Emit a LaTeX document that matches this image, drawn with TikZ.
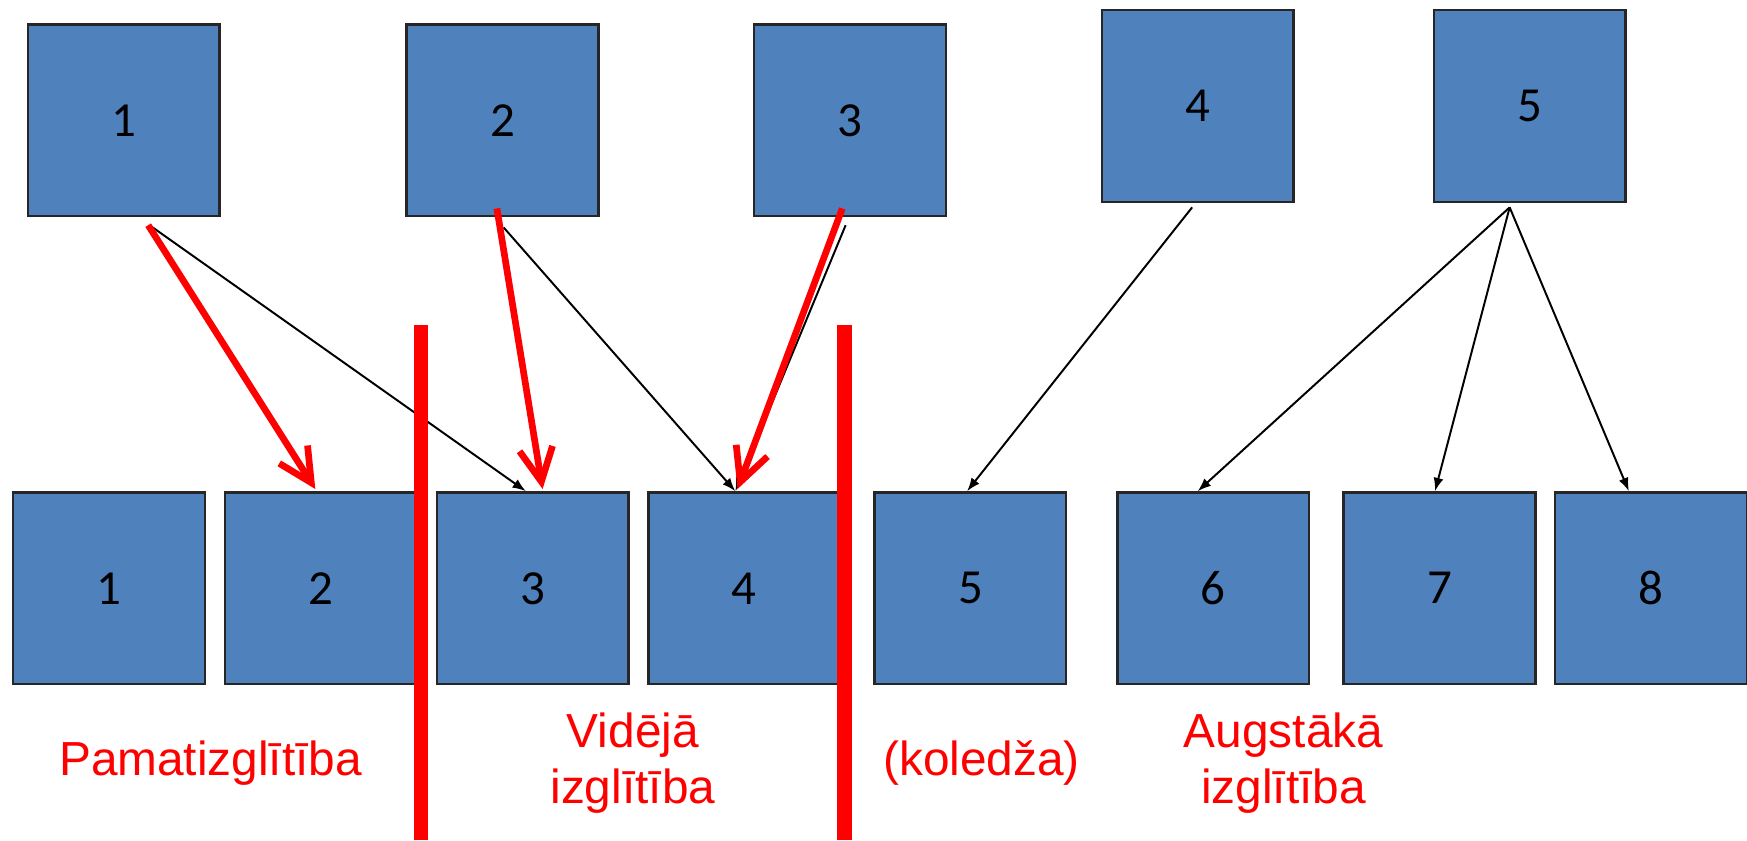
\documentclass[tikz,border=0pt]{standalone}
\usepackage{fontspec}
\setmainfont{Carlito}
\newfontfamily\labelfont{Liberation Sans}
\usetikzlibrary{arrows.meta}
\definecolor{boxblue}{RGB}{79,129,189}

\begin{document}
\begin{tikzpicture}[x=0.01cm, y=-0.01cm,
	blok/.style={rectangle, draw=black!85, line width=0.6pt, fill=boxblue, minimum width=1.72cm, minimum height=1.72cm, inner sep=0pt, font=\fontsize{12.5}{14}\selectfont},
	blackarrow/.style={-{Latex[length=0.12cm,width=0.09cm]}, line width=0.5pt},
	redarrow/.style={-{Straight Barb[length=0.3cm,width=0.3cm]}, red, line width=0.06cm},
	grouptext/.style={red, align=center, font=\labelfont\fontsize{12.2}{14.5}\selectfont}]
\useasboundingbox (0,0) rectangle (1568,754);

%top row:
\foreach \n/\x/\y in {1/111/108, 2/451/108, 3/763/108, 4/1075/95, 5/1373/95} {
	\node[blok] (t\n) at (\x,\y) {\n};
}
%bottom row:
\foreach \n/\x in {1/98, 2/288, 3/478, 4/668, 5/871, 6/1089, 7/1292, 8/1482} {
	\node[blok] (b\n) at (\x,528) {\n};
}

%black arrows:
\draw[blackarrow] ([xshift=0.26cm,yshift=-0.09cm]t1.south) -- ([xshift=-0.06cm]b3.north);
\draw[blackarrow] ([xshift=0.01cm,yshift=-0.09cm]t2.south) -- ([xshift=-0.08cm]b4.north);
\draw[blackarrow] ([xshift=-0.04cm,yshift=-0.07cm]t3.south) -- ([xshift=-0.08cm]b4.north);
\draw[blackarrow] ([xshift=-0.05cm,yshift=-0.04cm]t4.south) -- ([xshift=-0.03cm]b5.north);
\foreach \b/\s in {6/-0.14, 7/-0.04, 8/-0.20} {
	\draw[blackarrow] ([xshift=-0.18cm,yshift=-0.04cm]t5.south) -- ([xshift=\s cm]b\b.north);
}

%red borders:
\coordinate (bar1) at (378,292);
\coordinate (bar2) at (758,292);
\draw[red, line width=0.13cm] (bar1) -- ++(0,462);
\draw[red, line width=0.14cm] (bar2) -- ++(0,462);

%red arrows:
\draw[redarrow] ([xshift=0.22cm,yshift=-0.07cm]t1.south) -- ([xshift=-0.05cm,yshift=0.02cm]b2.north);
\draw[redarrow] ([xshift=-0.05cm,yshift=0.08cm]t2.south) -- ([xshift=0.09cm,yshift=0.02cm]b3.north);
\draw[redarrow] ([xshift=-0.07cm,yshift=0.08cm]t3.south) -- ([xshift=-0.06cm,yshift=0.02cm]b4.north);

%labels:
\node[grouptext] (pamat) at (189,685) {Pamatizglītība};
\node[grouptext] (videja) at (568,685) {Vidējā\\izglītība};
\node[grouptext] (koledza) at (881,685) {(koledža)};
\node[grouptext] (augst) at (1152,685) {Augstākā\\izglītība};
\end{tikzpicture}
\end{document}
